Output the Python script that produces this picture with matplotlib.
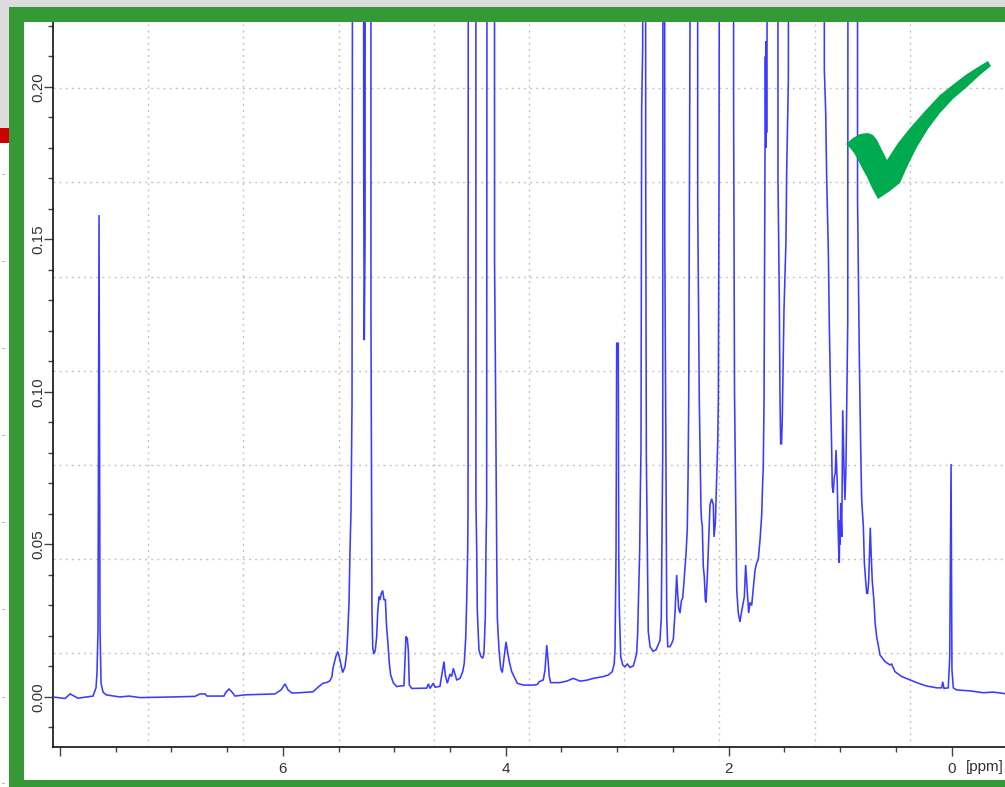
import numpy as np
import matplotlib.pyplot as plt
from matplotlib.patches import Rectangle, Polygon
from matplotlib.ticker import FixedLocator, MultipleLocator, FormatStrFormatter

plt.rcParams['font.family'] = ['Liberation Sans', 'DejaVu Sans']

# 1H spectrum, traced as (shift, intensity) vertices; 0.6 marks peaks that run off scale
ppm_aromatic = [8.062, 7.954, 7.909, 7.838, 7.703, 7.676, 7.667, 7.658, 7.649, 7.640,
                7.631, 7.613, 7.586, 7.461, 7.380, 7.281, 6.994, 6.788, 6.743, 6.698,
                6.680, 6.528, 6.510, 6.483, 6.456, 6.429, 6.339, 6.070, 6.016, 5.980,
                5.953, 5.917, 5.846]
int_aromatic = [0.0, -0.0005, 0.001, -0.0004, 0.0003, 0.003, 0.0082, 0.022, 0.158, 0.022,
                0.0046, 0.0016, 0.0007, 0.0, 0.0003, -0.0002, 0.0, 0.0002, 0.001, 0.001,
                0.0003, 0.0003, 0.0016, 0.0026, 0.0016, 0.0003, 0.0007, 0.001, 0.0023, 0.0043,
                0.0023, 0.0013, 0.0014]

ppm_olefin = [5.729, 5.684, 5.639, 5.603, 5.577, 5.559, 5.550, 5.523, 5.505, 5.487,
              5.463, 5.442, 5.427, 5.418, 5.406, 5.397, 5.388, 5.379, 5.376, 5.367,
              5.278, 5.274, 5.269, 5.262, 5.256, 5.211, 5.209, 5.202, 5.200, 5.193,
              5.182, 5.170, 5.158, 5.149, 5.137, 5.128, 5.116, 5.104, 5.092, 5.080,
              5.068, 5.059, 5.044, 5.032, 5.009, 4.978, 4.948, 4.913, 4.895, 4.883,
              4.874, 4.865, 4.843, 4.709, 4.694, 4.679, 4.650, 4.634, 4.590, 4.574,
              4.554, 4.542, 4.524, 4.500, 4.485, 4.470, 4.455, 4.440, 4.410, 4.386,
              4.372, 4.359, 4.350, 4.341, 4.338]
int_olefin = [0.0017, 0.0032, 0.0045, 0.0048, 0.0053, 0.0067, 0.0094, 0.0134, 0.0149, 0.0121,
              0.008, 0.0099, 0.0143, 0.0203, 0.031, 0.048, 0.061, 0.096, 0.196, 0.6,
              0.6, 0.17, 0.117, 0.15, 0.6, 0.6, 0.125, 0.048, 0.0285, 0.016,
              0.0141, 0.0154, 0.0196, 0.0274, 0.0329, 0.0318, 0.034, 0.0349, 0.0318, 0.032,
              0.0225, 0.0187, 0.011, 0.0072, 0.0047, 0.0034, 0.0036, 0.0037, 0.0198, 0.0192,
              0.0154, 0.0039, 0.0028, 0.0029, 0.0043, 0.0028, 0.0045, 0.0032, 0.0035, 0.0072,
              0.0116, 0.0072, 0.0045, 0.0075, 0.0067, 0.0094, 0.0075, 0.0056, 0.0061, 0.0083,
              0.011, 0.0192, 0.0318, 0.048, 0.061]

ppm_glycerol = [4.332, 4.269, 4.267, 4.260, 4.255, 4.240, 4.224, 4.206, 4.195, 4.183,
                4.177, 4.171, 4.162, 4.102, 4.100, 4.090, 4.081, 4.075, 4.060, 4.045,
                4.031, 4.015, 3.997, 3.986, 3.968, 3.946, 3.917, 3.896, 3.842, 3.752,
                3.717, 3.699, 3.663, 3.647, 3.632, 3.620, 3.609, 3.596, 3.513, 3.453,
                3.393, 3.333, 3.273, 3.214, 3.124, 3.079, 3.044, 3.026, 3.019, 3.010,
                3.004, 2.990, 2.986, 2.981, 2.968, 2.950, 2.930, 2.909, 2.885, 2.855,
                2.840, 2.825, 2.816, 2.807]
int_glycerol = [0.6, 0.6, 0.064, 0.048, 0.0285, 0.0154, 0.0134, 0.0127, 0.0143, 0.0263,
                0.048, 0.063, 0.6, 0.6, 0.143, 0.0965, 0.048, 0.0258, 0.0154, 0.0094,
                0.008, 0.0127, 0.0181, 0.0154, 0.0116, 0.0083, 0.0061, 0.0045, 0.0039, 0.0039,
                0.0041, 0.005, 0.0056, 0.0089, 0.017, 0.0121, 0.0067, 0.0047, 0.0047, 0.0052,
                0.0061, 0.0052, 0.0055, 0.0061, 0.0067, 0.0072, 0.0083, 0.011, 0.016, 0.048,
                0.116, 0.116, 0.048, 0.0296, 0.0132, 0.0105, 0.0099, 0.0108, 0.0097, 0.0102,
                0.0121, 0.0143, 0.0209, 0.0351]

ppm_allylic = [2.798, 2.792, 2.786, 2.780, 2.771, 2.762, 2.747, 2.744, 2.741, 2.738,
               2.721, 2.705, 2.678, 2.651, 2.633, 2.616, 2.604, 2.591, 2.586, 2.577,
               2.573, 2.555, 2.546, 2.526, 2.511, 2.496, 2.481, 2.466, 2.457, 2.448,
               2.436, 2.424, 2.412, 2.400, 2.382, 2.371, 2.364, 2.358, 2.346, 2.331,
               2.281, 2.277, 2.263, 2.257, 2.248, 2.243, 2.236, 2.227, 2.218, 2.209,
               2.203, 2.191, 2.179, 2.167, 2.152, 2.137, 2.131, 2.119, 2.107, 2.098,
               2.092, 2.086, 2.071, 1.958, 1.955, 1.947, 1.940, 1.934, 1.927, 1.913,
               1.898, 1.886, 1.873, 1.859, 1.847, 1.838, 1.820, 1.808, 1.793, 1.778,
               1.763, 1.748, 1.734, 1.718, 1.703, 1.694, 1.689, 1.682, 1.673, 1.670,
               1.666, 1.663, 1.659, 1.655, 1.649, 1.559, 1.557, 1.545, 1.539, 1.533,
               1.525, 1.518, 1.503, 1.485, 1.479, 1.464, 1.449]
int_allylic = [0.048, 0.067, 0.0816, 0.193, 0.213, 0.6, 0.6, 0.174, 0.12, 0.078,
               0.0215, 0.0165, 0.015, 0.0155, 0.017, 0.0185, 0.026, 0.081, 0.6, 0.6,
               0.153, 0.026, 0.0165, 0.0165, 0.0175, 0.019, 0.0275, 0.040, 0.034, 0.029,
               0.0275, 0.0315, 0.0325, 0.038, 0.047, 0.0547, 0.0718, 0.097, 0.218, 0.6,
               0.6, 0.161, 0.097, 0.083, 0.062, 0.058, 0.056, 0.0427, 0.0394, 0.0318,
               0.031, 0.0394, 0.0515, 0.063, 0.065, 0.063, 0.0525, 0.057, 0.072, 0.083,
               0.097, 0.169, 0.6, 0.6, 0.193, 0.10, 0.075, 0.056, 0.035, 0.0275,
               0.0246, 0.0275, 0.030, 0.0328, 0.0433, 0.038, 0.0275, 0.031, 0.030, 0.036,
               0.0416, 0.044, 0.045, 0.0515, 0.0597, 0.071, 0.0754, 0.097, 0.176, 0.21,
               0.18, 0.215, 0.185, 0.217, 0.6, 0.6, 0.170, 0.13, 0.099, 0.083,
               0.083, 0.092, 0.127, 0.15, 0.172, 0.2016, 0.6]

ppm_aliphatic = [1.144, 1.141, 1.129, 1.120, 1.105, 1.096, 1.084, 1.075, 1.070, 1.061,
                 1.052, 1.043, 1.036, 1.025, 1.018, 1.012, 1.007, 1.003, 1.000, 0.994,
                 0.985, 0.976, 0.971, 0.965, 0.956, 0.947, 0.940, 0.931, 0.924, 0.845,
                 0.843, 0.827, 0.821, 0.815, 0.806, 0.791, 0.782, 0.770, 0.761, 0.752,
                 0.743, 0.738, 0.729, 0.720, 0.711, 0.702, 0.695, 0.686, 0.671, 0.657,
                 0.642, 0.597, 0.552, 0.537, 0.507, 0.447, 0.372, 0.298, 0.223, 0.133,
                 0.088, 0.079, 0.067, 0.029, 0.016, 0.004, -0.004, -0.016, -0.047, -0.166,
                 -0.285, -0.375, -0.480]
int_aliphatic = [0.6, 0.2056, 0.192, 0.170, 0.146, 0.121, 0.097, 0.081, 0.069, 0.067,
                 0.072, 0.0735, 0.081, 0.070, 0.056, 0.048, 0.044, 0.058, 0.050, 0.0636,
                 0.0525, 0.094, 0.085, 0.0754, 0.0646, 0.0754, 0.097, 0.123, 0.6, 0.6,
                 0.163, 0.111, 0.097, 0.082, 0.0646, 0.056, 0.044, 0.038, 0.034, 0.034,
                 0.038, 0.044, 0.0555, 0.046, 0.038, 0.034, 0.031, 0.0246, 0.0195, 0.017,
                 0.0138, 0.0116, 0.0105, 0.0108, 0.0083, 0.0067, 0.0056, 0.0045, 0.0036, 0.003,
                 0.003, 0.005, 0.0028, 0.003, 0.0128, 0.0764, 0.0089, 0.003, 0.0023, 0.002,
                 0.0014, 0.0016, 0.0011]

x_major = [0, 2, 4, 6, 8]
x_labels = ['0', '2', '4', '6', '']
y_major = [0.00, 0.05, 0.10, 0.15, 0.20]

shift = np.concatenate([ppm_aromatic, ppm_olefin, ppm_glycerol, ppm_allylic, ppm_aliphatic])
signal = np.concatenate([int_aromatic, int_olefin, int_glycerol, int_allylic, int_aliphatic])

W, H = 1005, 787
fig = plt.figure(figsize=(W / 100, H / 100), dpi=100)
fig.patch.set_facecolor('white')


def px_box(x0, y0, x1, y1):
    # pixel box (top-left origin) -> figure fraction rect
    return [x0 / W, 1 - y1 / H, (x1 - x0) / W, (y1 - y0) / H]


ax = fig.add_axes(px_box(53, 22, 1005, 747))
x_lo, x_hi = 8.062, -0.480
y_lo, y_hi = -0.0164, 0.2213
ax.set_xlim(x_lo, x_hi)
ax.set_ylim(y_lo, y_hi)

# TopSpin-style grid: equal divisions of the full plot frame
grid_kw = dict(color='#c2c2c2', lw=1.0, dashes=(1.4, 3.0), zorder=1)
for gx in np.linspace(x_lo, x_hi, 11)[1:-1]:
    ax.axvline(gx, **grid_kw)
y_step = (0.2304 - y_lo) / 8
for k in range(1, 8):
    ax.axhline(y_lo + k * y_step, **grid_kw)

ax.plot(shift, signal, color='#3b3bff', lw=1.15, zorder=3, solid_joinstyle='miter')

for side in ('top', 'right'):
    ax.spines[side].set_visible(False)
for side in ('left', 'bottom'):
    ax.spines[side].set_linewidth(1.2)
    ax.spines[side].set_color('#111111')

ax.xaxis.set_major_locator(FixedLocator(x_major))
ax.set_xticklabels(x_labels)
ax.xaxis.set_minor_locator(MultipleLocator(0.5))
ax.yaxis.set_major_locator(FixedLocator(y_major))
ax.yaxis.set_major_formatter(FormatStrFormatter('%.2f'))
ax.yaxis.set_minor_locator(MultipleLocator(0.01))

ax.tick_params(which='major', direction='out', length=6.5, width=1.0,
               color='#444444', labelsize=11, labelcolor='#333333')
ax.tick_params(which='minor', direction='out', length=3.5, width=1.0, color='#444444')
ax.tick_params(axis='y', pad=-1.2)
ax.tick_params(axis='x', pad=4)
for lab in ax.get_yticklabels():
    lab.set_rotation(90)
    lab.set_va('center')

fig.text(985 / W, 1 - 767 / H, '[ppm]', ha='center', va='center',
         fontsize=11, color='#333333')


# window chrome around the plot
def add_rect(x0, y0, x1, y1, color):
    fig.add_artist(Rectangle(px_box(x0, y0, x1, y1)[:2],
                             (x1 - x0) / W, (y1 - y0) / H,
                             transform=fig.transFigure, facecolor=color,
                             edgecolor='none', zorder=10))


add_rect(0, 0, W, 7, '#dcdcdc')
add_rect(0, 0, 9, 128, '#dcdcdc')
add_rect(0, 128, 9, 143, '#cc0000')
for my in [174, 261, 348, 435, 522, 609, 697, 783]:
    add_rect(2, my, 5, my + 1, '#bbbbbb')
add_rect(9, 7, W, 22, '#359a35')
add_rect(9, 7, 24, 787, '#359a35')
add_rect(9, 780, W, 787, '#359a35')

check_px = [(846, 144), (853, 138), (860, 134), (868, 133), (873, 135), (877, 140),
            (880, 146), (883, 152), (887, 160), (898, 143), (910, 128), (925, 111),
            (940, 95), (955, 83), (967, 74), (978, 67), (988, 61), (991, 66),
            (980, 75), (967, 87), (953, 99), (940, 113), (928, 129), (917, 147),
            (908, 165), (900, 183), (890, 191), (878, 199), (872, 188), (867, 177),
            (862, 168), (858, 160), (854, 153), (850, 148)]
fig.add_artist(Polygon([(x / W, 1 - y / H) for x, y in check_px], closed=True,
                       transform=fig.transFigure, facecolor='#00aa4f',
                       edgecolor='none', zorder=11))

fig.savefig('out.png', dpi=100)
